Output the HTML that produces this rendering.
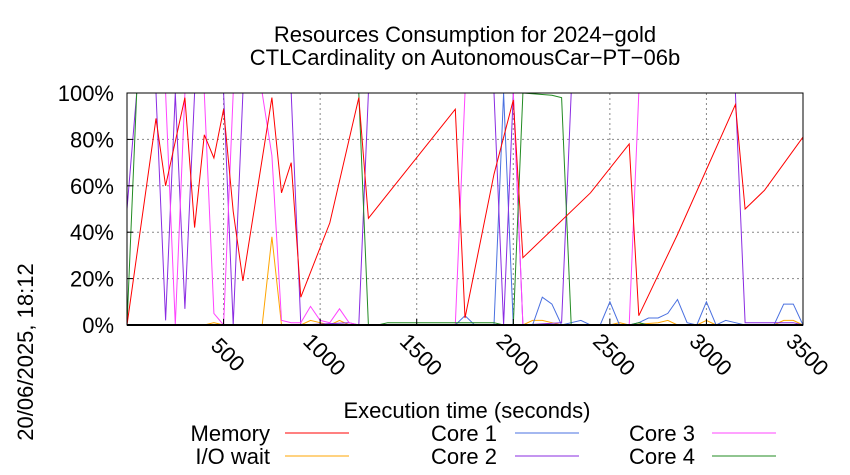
<!DOCTYPE html>
<html><head><meta charset="utf-8"><style>
body{margin:0;background:#fff;}
svg{display:block;font-family:"Liberation Sans",sans-serif;}
</style></head><body>
<svg id="chart" width="850" height="475" viewBox="0 0 850 475">
<text x="465" y="42" font-size="22" text-anchor="middle">Resources Consumption for 2024−gold</text>
<text x="465" y="65" font-size="22" text-anchor="middle">CTLCardinality on AutonomousCar−PT−06b</text>
<g id="grid"></g>
<g id="series"></g>
<rect x="127" y="93" width="676" height="232" fill="none" stroke="#000" stroke-width="1"/>
<line x1="127" y1="325" x2="803" y2="325" stroke="#000" stroke-width="2"/>
<g id="yticks"></g>
<g id="xticks"></g>
<text x="467" y="418" font-size="22" text-anchor="middle">Execution time (seconds)</text>
<text transform="translate(33,352) rotate(-90)" font-size="22" text-anchor="middle">20/06/2025, 18:12</text>
<g id="legend"></g>
</svg>
<script>
const xTicks=[500,1000,1500,2000,2500,3000,3500];
const yTicks=[0,20,40,60,80,100];
const memT=[0,150,200,300,350,400,450,500,550,600,750,800,850,900,1050,1200,1250,1700,1750,1900,2000,2050,2400,2600,2650,2850,3150,3200,3300,3500];
const memV=[0,89,60,98,42,82,72,93,49,19,98,57,70,12,44,98,46,93,3,65,97,29,57,78,4,39,95,50,58,81];
const ioT=[0,400,450,500,550,700,750,800,900,950,1000,1050,1100,1150,2050,2100,2150,2200,2250,2500,2550,2600,2750,2800,2850,2950,3000,3050,3350,3400,3450,3500];
const ioV=[0,0,1,0,0,0,38,0,0,2,1,0,2,0,0,2,2,1,0,0,1,0,1,2,0,0,2,0,0,2,2,0];
const c1T=[0,1300,1700,1750,1800,1900,1950,2000,2050,2100,2150,2200,2250,2300,2350,2400,2450,2500,2550,2600,2650,2700,2750,2800,2850,2900,2950,3000,3050,3100,3150,3200,3350,3400,3450,3500];
const c1V=[0,0,0,4,0,0,100,0,0,0,12,9,0,1,2,0,0,10,0,0,1,3,3,5,11,1,0,10,0,2,1,0,0,9,9,0];
const c2T=[0,50,150,200,250,300,350,500,550,600,850,900,1150,1200,1250,1900,1950,2000,2050,2250,2300,3150,3200,3450,3500];
const c2V=[50,100,100,2,100,7,100,100,0,100,100,0,1,0,100,100,0,100,0,1,100,100,1,1,0];
const c3T=[0,200,250,300,400,450,500,550,700,750,800,850,900,950,1000,1050,1100,1150,1200,1700,1750,2000,2050,2600,2650,3500];
const c3V=[100,100,0,100,100,5,0,100,100,73,2,1,1,8,2,1,7,1,0,0,100,100,0,0,100,100];
const c4T=[0,50,1200,1250,1300,1350,1900,1950,2000,2050,2200,2250,2300,2600,2650,2700,2750,3500];
const c4V=[0,100,100,0,0,1,1,0,0,100,99,98,0,0,1,0,0,0];
const NS="http://www.w3.org/2000/svg";
const X0=127,X1=803,Y0=325,Y1=93,TMAX=3500;
function sx(t){return X0+(t/TMAX)*(X1-X0);}
function sy(v){return Y0-(v/100)*(Y0-Y1);}
function mk(tag,attrs,parent){const e=document.createElementNS(NS,tag);for(const k in attrs)e.setAttribute(k,attrs[k]);parent.appendChild(e);return e;}
const grid=document.getElementById('grid'),yt=document.getElementById('yticks'),xt=document.getElementById('xticks');
yTicks.forEach(v=>{
  if(v>0&&v<100){const g=mk('line',{x1:X0,x2:X1,y1:sy(v),y2:sy(v),stroke:'#888','stroke-dasharray':'2,3','stroke-width':1},grid);
  
  }
  const tk=mk('line',{x1:X0,x2:X0+6,y1:sy(v),y2:sy(v),stroke:'#000'},yt);
  
  
  const t=mk('text',{x:114,y:sy(v)+8,'font-size':22,'text-anchor':'end'},yt);
  t.textContent=v+'%';
  
  
});
xTicks.forEach(v=>{
  if(v<TMAX){const g=mk('line',{x1:sx(v),x2:sx(v),y1:Y1,y2:Y0,stroke:'#888','stroke-dasharray':'2,3','stroke-width':1},grid);
  
  }
  const tk=mk('line',{x1:sx(v),x2:sx(v),y1:Y0,y2:Y0-6,stroke:'#000'},xt);
  
  
  const t=mk('text',{transform:'translate('+(sx(v)+4)+',355) rotate(45)','font-size':22,'text-anchor':'middle',y:7},xt);
  t.textContent=v;
  
  
});
const series=[
 {name:'memory',label:'Memory',T:memT,V:memV,c:'#ff0000'},
 {name:'io-wait',label:'I/O wait',T:ioT,V:ioV,c:'#ffa500'},
 {name:'core-1',label:'Core 1',T:c1T,V:c1V,c:'#4a70e0'},
 {name:'core-2',label:'Core 2',T:c2T,V:c2V,c:'#8a2be2'},
 {name:'core-3',label:'Core 3',T:c3T,V:c3V,c:'#ff44ff'},
 {name:'core-4',label:'Core 4',T:c4T,V:c4V,c:'#228b22'}];
const sg=document.getElementById('series');
const drawOrder=[1,2,3,4,5,0];
drawOrder.forEach(i=>{const s=series[i];
  const pts=s.T.map((t,j)=>sx(t).toFixed(1)+','+sy(s.V[j]).toFixed(1)).join(' ');
  const p=mk('polyline',{points:pts,fill:'none',stroke:s.c,'stroke-width':1},sg);
  
  
});
const lg=document.getElementById('legend');
const lpos=[[270,433,285],[270,456,285],[497,433,515],[497,456,515],[695,433,712],[695,456,712]];
series.forEach((s,i)=>{const [tx,ty,lx]=lpos[i];
  const g=mk('g',{},lg);
  
  
  const t=mk('text',{x:tx,y:ty+8,'font-size':22,'text-anchor':'end'},g);
  t.textContent=s.label;
  mk('line',{x1:lx,x2:lx+64,y1:ty,y2:ty,stroke:s.c,'stroke-width':1},g);
});
</script>
</body></html>
